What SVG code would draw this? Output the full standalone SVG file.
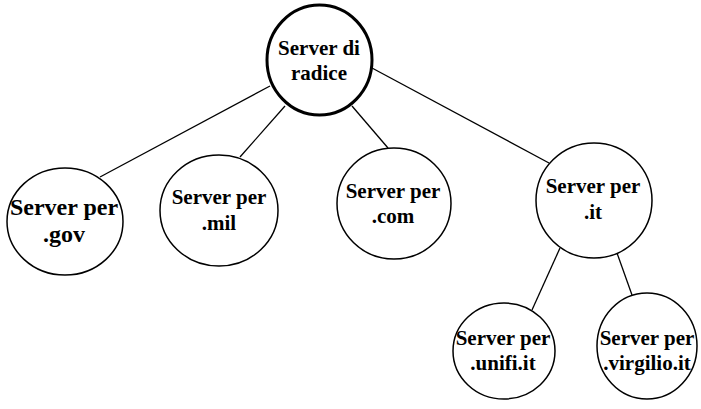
<svg xmlns="http://www.w3.org/2000/svg" width="701" height="409" viewBox="0 0 701 409">
<style>
.n{fill:#fff;stroke:#000;stroke-width:1.5}
.root{stroke-width:3}
.t{font-family:"Liberation Serif","Times New Roman",serif;font-weight:bold;font-size:21px;text-anchor:middle;fill:#000}
.c line{stroke:#000;stroke-width:1.3}
</style>
<rect width="701" height="409" fill="#fff"/>
<g class="c" id="connectors">
<line x1="270" y1="86" x2="100" y2="177"/>
<line x1="285" y1="106" x2="240" y2="157"/>
<line x1="352" y1="106" x2="388" y2="148"/>
<line x1="372" y1="68" x2="549" y2="163"/>
<line x1="560" y1="248" x2="532" y2="310"/>
<line x1="617" y1="253" x2="632" y2="295"/>
</g>
<g id="root">
<ellipse class="n root" cx="319.5" cy="60" rx="52.5" ry="55"/>
<text class="t" x="319" y="55">Server di</text>
<text class="t" x="319" y="80">radice</text>
</g>
<g id="gov">
<ellipse class="n" cx="65" cy="221.5" rx="58" ry="53.5"/>
<text class="t" x="64" y="215" style="font-size:24px">Server per</text>
<text class="t" x="64" y="242" style="font-size:24px">.gov</text>
</g>
<g id="mil">
<ellipse class="n" cx="219" cy="210.5" rx="59" ry="55.5"/>
<text class="t" x="219" y="204">Server per</text>
<text class="t" x="219" y="230">.mil</text>
</g>
<g id="com">
<ellipse class="n" cx="394" cy="203.5" rx="57" ry="55.5"/>
<text class="t" x="393" y="198">Server per</text>
<text class="t" x="393" y="223">.com</text>
</g>
<g id="it">
<ellipse class="n" cx="594" cy="200.5" rx="58" ry="57.5"/>
<text class="t" x="593" y="193">Server per</text>
<text class="t" x="593" y="219">.it</text>
</g>
<g id="unifi">
<ellipse class="n" cx="504" cy="351" rx="51" ry="48"/>
<text class="t" x="503" y="345">Server per</text>
<text class="t" x="503" y="370">.unifi.it</text>
</g>
<g id="virgilio">
<ellipse class="n" cx="647" cy="346" rx="50" ry="53"/>
<text class="t" x="647" y="345">Server per</text>
<text class="t" x="647" y="370">.virgilio.it</text>
</g>
</svg>
